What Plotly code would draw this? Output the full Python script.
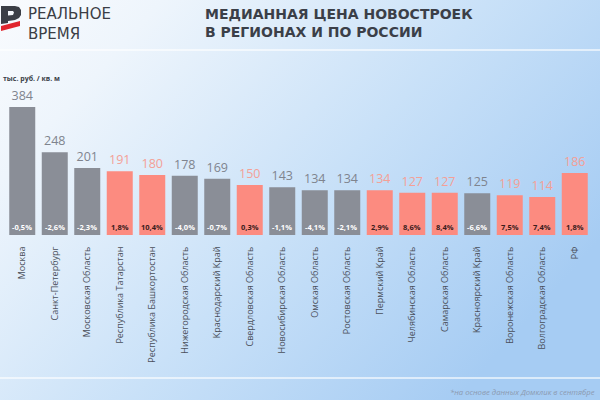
import base64
import plotly.graph_objects as go

# данные
regions = ['Москва', 'Санкт-Петербург', 'Московская Область', 'Республика Татарстан',
           'Республика Башкортостан', 'Нижегородская Область', 'Краснодарский Край',
           'Свердловская Область', 'Новосибирская Область', 'Омская Область',
           'Ростовская Область', 'Пермский Край', 'Челябинская Область', 'Самарская Область',
           'Красноярский Край', 'Воронежская Область', 'Волгоградская Область', 'РФ']
prices = [384, 248, 201, 191, 180, 178, 169, 150, 143, 134, 134, 134, 127, 127, 125, 119, 114, 186]
changes = [-0.5, -2.6, -2.3, 1.8, 10.4, -4.0, -0.7, 0.3, -1.1, -4.1, -2.1, 2.9, 8.6, 8.4, -6.6, 7.5, 7.4, 1.8]

W, H = 600, 400
ML, MR, MT, MB = 6, 9, 103, 165
PW, PH = W - ML - MR, H - MT - MB


def px_x(x):
    return (x - ML) / PW


def px_y(y):
    return (H - MB - y) / PH


GRAY, SALMON = '#8a8e97', '#fc8b80'
bar_colors = [SALMON if c > 0 else GRAY for c in changes]
val_colors = ['#f4a096' if c > 0 else '#7f848e' for c in changes]
pct_colors = ['#3a1c1c' if c > 0 else '#ffffff' for c in changes]
pct_text = [f'{c:.1f}%'.replace('.', ',') for c in changes]

fig = go.Figure(go.Bar(
    x=regions, y=prices,
    marker_color=bar_colors, marker_line_width=0,
    text=[str(p) for p in prices], textposition='outside',
    outsidetextfont=dict(family='Open Sans', size=12.5, color=val_colors),
    cliponaxis=False, hoverinfo='skip',
))

# проценты внутри столбцов
for r, t, col in zip(regions, pct_text, pct_colors):
    fig.add_annotation(x=r, y=0, text=t, showarrow=False, yanchor='bottom', yshift=1,
                       font=dict(family='Open Sans', size=7.5, color=col, weight='bold'))

# фон-градиент
svg = ('<svg xmlns="http://www.w3.org/2000/svg" width="600" height="400">'
       '<defs><linearGradient id="g" x1="0" y1="0" x2="1" y2="0.6">'
       '<stop offset="0" stop-color="#f9fbfe"/><stop offset="0.2" stop-color="#eef5fc"/>'
       '<stop offset="0.6" stop-color="#c9e1f8"/><stop offset="1" stop-color="#a6ccf3"/>'
       '</linearGradient></defs><rect width="600" height="400" fill="url(#g)"/></svg>')
fig.add_layout_image(
    source='data:image/svg+xml;base64,' + base64.b64encode(svg.encode()).decode(),
    xref='paper', yref='paper', x=px_x(0), y=px_y(0), sizex=W / PW, sizey=H / PH,
    xanchor='left', yanchor='top', sizing='stretch', layer='below')

# светлые линии
for yy in (50, 378):
    fig.add_shape(type='line', xref='paper', yref='paper', x0=px_x(0), x1=px_x(600),
                  y0=px_y(yy), y1=px_y(yy), line=dict(color='rgba(255,255,255,0.6)', width=2))


# логотип
def path(pts):
    return 'M ' + ' L '.join(f'{px_x(a)},{px_y(b)}' for a, b in pts) + ' Z'


fig.add_shape(type='path', xref='paper', yref='paper', line_width=0, fillcolor='#3b3e46',
              path=path([(1, 6), (15, 6), (19, 7), (21, 10), (21, 15), (19, 18), (15, 20),
                         (8, 21), (8, 23), (1, 24)]))
fig.add_shape(type='path', xref='paper', yref='paper', line_width=0, fillcolor='#f4f7fb',
              path=path([(8, 11), (13, 11), (14, 12.5), (13, 15), (8, 15.5)]))
fig.add_shape(type='path', xref='paper', yref='paper', line_width=0, fillcolor='#e0252e',
              path=path([(1, 26), (20, 21), (20, 26), (1, 31)]))

fig.add_annotation(xref='paper', yref='paper', x=px_x(26), y=px_y(3.5), xanchor='left', yanchor='top',
                   text='РЕАЛЬНОЕ<br>ВРЕМЯ', showarrow=False, align='left',
                   font=dict(family='DejaVu Sans', size=15, color='#3b3e46'))
fig.add_annotation(xref='paper', yref='paper', x=px_x(203), y=px_y(4), xanchor='left', yanchor='top',
                   text='<b>МЕДИАННАЯ ЦЕНА НОВОСТРОЕК<br>В РЕГИОНАХ И ПО РОССИИ</b>', showarrow=False,
                   align='left', font=dict(family='DejaVu Sans', size=14, color='#3b3f48'))
fig.add_annotation(xref='paper', yref='paper', x=px_x(1), y=px_y(78), xanchor='left', yanchor='middle',
                   text='тыс. руб. / кв. м', showarrow=False,
                   font=dict(family='Open Sans', size=7, color='#3b3f48', weight='bold'))
fig.add_annotation(xref='paper', yref='paper', x=px_x(448), y=px_y(392), xanchor='left', yanchor='middle',
                   text='<i>*на основе данных Домклик в сентябре</i>', showarrow=False,
                   font=dict(family='Open Sans', size=7.7, color='#8c9ab0'))

fig.update_layout(
    width=W, height=H, margin=dict(l=ML, r=MR, t=MT, b=MB),
    paper_bgcolor='#d6e7f9', plot_bgcolor='rgba(0,0,0,0)',
    bargap=0.2, showlegend=False,
    xaxis=dict(tickangle=-90, showgrid=False, showline=False, zeroline=False, automargin=False,
               ticks='outside', ticklen=7, tickcolor='rgba(0,0,0,0)',
               tickfont=dict(family='Open Sans', size=9, color='#4a4f5a')),
    yaxis=dict(visible=False, range=[0, 396]),
)

fig.write_html('out.html', config={'displayModeBar': False},
               post_script="document.body.style.margin='0';")
